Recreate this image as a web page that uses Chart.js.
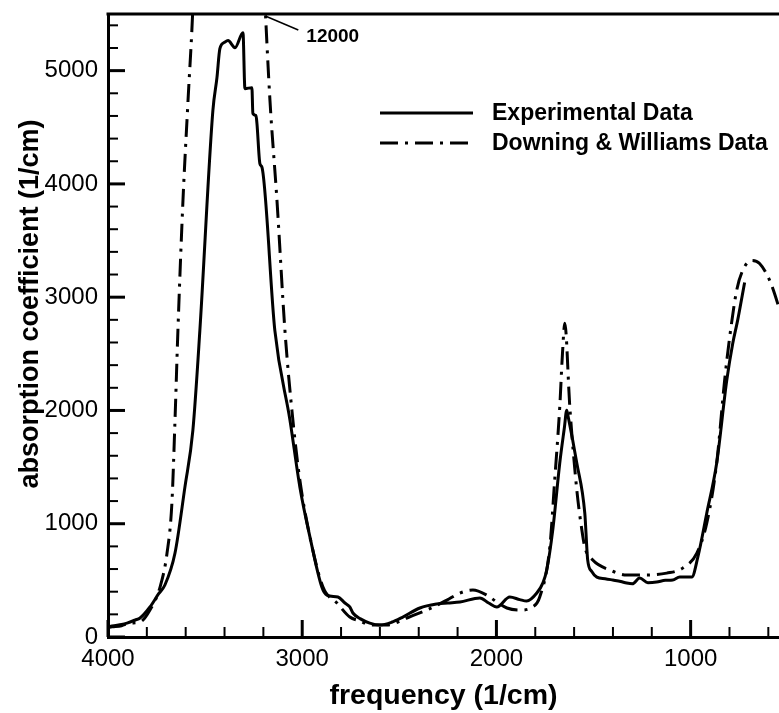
<!DOCTYPE html>
<html>
<head>
<meta charset="utf-8">
<script src="https://cdn.jsdelivr.net/npm/chart.js@4/dist/chart.umd.min.js"></script>
<style>
  html, body { margin: 0; padding: 0; background: #fff; overflow: hidden; }
  #wrap { width: 779px; height: 713px; }
</style>
</head>
<body>
<div id="wrap"><canvas id="c" width="779" height="713"></canvas></div>
<script>
// ---- data ----
const seriesNames = ['Experimental Data', 'Downing & Williams Data'];

const expFreq = [4000, 3979, 3930, 3902, 3860, 3835, 3784, 3740, 3707, 3655, 3604, 3563, 3527, 3460, 3439, 3424, 3400, 3382, 3346, 3305, 3295, 3259, 3254, 3238, 3233, 3218, 3207, 3141, 3063, 3012, 2960, 2899, 2873, 2816, 2780, 2755, 2739, 2700, 2652, 2600, 2540, 2482, 2394, 2307, 2250, 2188, 2085, 2040, 1998, 1931, 1880, 1844, 1792, 1760, 1741, 1710, 1674, 1650, 1638, 1630, 1586, 1545, 1530, 1510, 1483, 1440, 1401, 1360, 1329, 1300, 1262, 1220, 1175, 1130, 1092, 1056, 994, 963, 917, 866, 814, 783, 758, 722];
const expVal  = [85, 97, 110, 123, 150, 168, 265, 380, 459, 741, 1323, 1825, 2707, 4647, 4938, 5194, 5250, 5265, 5203, 5335, 4841, 4850, 4621, 4603, 4533, 4180, 4145, 2707, 1914, 1323, 882, 441, 370, 353, 300, 265, 212, 160, 123, 106, 130, 176, 256, 291, 300, 309, 344, 300, 265, 353, 330, 317, 388, 480, 591, 944, 1534, 1850, 2002, 1940, 1534, 1093, 679, 580, 529, 515, 503, 490, 476, 470, 520, 480, 485, 500, 503, 529, 529, 705, 1093, 1534, 2266, 2593, 2795, 3130];

const dwFreq = [4000, 3979, 3930, 3887, 3835, 3784, 3732, 3696, 3671, 3655, 3640, 3614, 3588, 3562, 3500, 3420, 3300, 3192, 3166, 3130, 3089, 3048, 3012, 2960, 2893, 2821, 2755, 2700, 2652, 2564, 2461, 2358, 2255, 2188, 2121, 2050, 1998, 1946, 1880, 1813, 1777, 1725, 1700, 1674, 1660, 1648, 1622, 1586, 1560, 1545, 1504, 1416, 1329, 1226, 1123, 1041, 968, 917, 866, 825, 799, 763, 732, 686, 645, 593, 552, 545];
const dwVal  = [85, 90, 100, 123, 132, 238, 441, 741, 1182, 1914, 2707, 3854, 4735, 5600, 9000, 12000, 9500, 5600, 4735, 3854, 2707, 1914, 1384, 882, 441, 300, 176, 140, 106, 106, 168, 238, 326, 388, 414, 370, 309, 256, 238, 265, 353, 794, 1384, 2028, 2500, 2769, 2028, 1296, 944, 794, 679, 591, 547, 547, 564, 608, 741, 1005, 1534, 2266, 2646, 3060, 3236, 3325, 3298, 3148, 2945, 2900];

const xRange = [545, 4000];     // frequency (1/cm), reversed axis
const yRange = [0, 5500];       // absorption coefficient (1/cm)
const majorStep = 1000;
const minorStep = 200;

const xTitle = 'frequency (1/cm)';
const yTitle = 'absorption coefficient (1/cm)';

// ---- build datasets ----
const toPts = (xs, ys) => xs.map((x, i) => ({ x: x, y: ys[i] }));
const FONT = "'Liberation Sans', Arial, Helvetica, sans-serif";

const extrasPlugin = {
  id: 'extras',
  afterDraw(chart) {
    const { ctx, chartArea: a, scales: { x, y } } = chart;
    ctx.save();
    ctx.strokeStyle = '#000';
    ctx.fillStyle = '#000';
    ctx.lineCap = 'butt';
    // inward ticks on x
    x.ticks.forEach(t => {
      const px = x.getPixelForValue(t.value);
      const major = t.value % majorStep === 0;
      ctx.lineWidth = major ? 3 : 2;
      ctx.beginPath();
      ctx.moveTo(px, a.bottom);
      ctx.lineTo(px, a.bottom - (major ? 17 : 10));
      ctx.stroke();
    });
    // inward ticks on y
    y.ticks.forEach(t => {
      const py = y.getPixelForValue(t.value);
      const major = t.value % majorStep === 0;
      ctx.lineWidth = major ? 3 : 2;
      ctx.beginPath();
      ctx.moveTo(a.left, py);
      ctx.lineTo(a.left + (major ? 17 : 10), py);
      ctx.stroke();
    });
    // top frame line
    ctx.lineWidth = 3;
    ctx.beginPath();
    ctx.moveTo(a.left - 1.5, a.top);
    ctx.lineTo(a.right, a.top);
    ctx.stroke();

    // y axis title (rotated)
    ctx.save();
    ctx.translate(31, 304);
    ctx.rotate(-Math.PI / 2);
    ctx.font = 'bold 27px ' + FONT;
    ctx.textAlign = 'center';
    ctx.textBaseline = 'middle';
    ctx.fillText(yTitle, 0, 0);
    ctx.restore();

    // off-scale peak annotation (Downing & Williams peak value)
    const peak = Math.max(...dwVal);
    const exitX = x.getPixelForValue(3190);
    ctx.lineWidth = 1.5;
    ctx.beginPath();
    ctx.moveTo(exitX, a.top + 2);
    ctx.lineTo(exitX + 33, a.top + 16);
    ctx.stroke();
    ctx.font = 'bold 19px ' + FONT;
    ctx.textAlign = 'left';
    ctx.textBaseline = 'middle';
    ctx.fillText(String(peak), exitX + 41, a.top + 23);

    // legend
    const lx0 = 380, lx1 = 473, tx = 492;
    const rows = [113, 143];
    chart.data.datasets.forEach((ds, i) => {
      ctx.lineWidth = 3;
      ctx.setLineDash(ds.borderDash || []);
      ctx.beginPath();
      ctx.moveTo(lx0, rows[i]);
      ctx.lineTo(lx1, rows[i]);
      ctx.stroke();
      ctx.setLineDash([]);
      ctx.font = 'bold 23px ' + FONT;
      ctx.fillText(ds.label, tx, rows[i] + 1);
    });
    ctx.restore();
  }
};

new Chart(document.getElementById('c'), {
  type: 'line',
  data: {
    datasets: [
      {
        label: seriesNames[0],
        data: toPts(expFreq, expVal),
        borderColor: '#000',
        borderWidth: 3,
        pointRadius: 0,
        cubicInterpolationMode: 'monotone',
        fill: false
      },
      {
        label: seriesNames[1],
        data: toPts(dwFreq, dwVal),
        borderColor: '#000',
        borderWidth: 3,
        borderDash: [18, 7, 3, 7],
        pointRadius: 0,
        cubicInterpolationMode: 'monotone',
        fill: false
      }
    ]
  },
  options: {
    responsive: false,
    animation: false,
    events: [],
    layout: { padding: { top: 14, left: 0, right: 0, bottom: 0 } },
    plugins: { legend: { display: false }, tooltip: { enabled: false } },
    scales: {
      x: {
        type: 'linear',
        reverse: true,
        min: xRange[0],
        max: xRange[1],
        grid: { display: false, drawTicks: false },
        border: { display: true, width: 3, color: '#000' },
        ticks: {
          stepSize: minorStep,
          includeBounds: false,
          autoSkip: false,
          maxRotation: 0,
          minRotation: 0,
          padding: 8,
          color: '#000',
          font: { family: FONT, size: 24 },
          callback: v => (v % majorStep === 0 ? String(v) : '')
        },
        title: {
          display: true,
          text: xTitle,
          color: '#000',
          font: { family: FONT, size: 28.5, weight: 'bold' },
          padding: { top: 0, bottom: 0 }
        },
        afterFit: s => { s.height = 76; s.paddingLeft = 0; s.paddingRight = 0; }
      },
      y: {
        type: 'linear',
        min: yRange[0],
        max: yRange[1],
        grid: { display: false, drawTicks: false },
        border: { display: true, width: 3, color: '#000' },
        ticks: {
          stepSize: minorStep,
          includeBounds: false,
          autoSkip: false,
          padding: 10,
          color: '#000',
          font: { family: FONT, size: 24 },
          callback: v => (v % majorStep === 0 ? String(v) : '')
        },
        title: { display: false, text: yTitle },
        afterFit: s => { s.width = 108; s.paddingTop = 0; s.paddingBottom = 0; }
      }
    }
  },
  plugins: [extrasPlugin]
});
</script>
</body>
</html>
